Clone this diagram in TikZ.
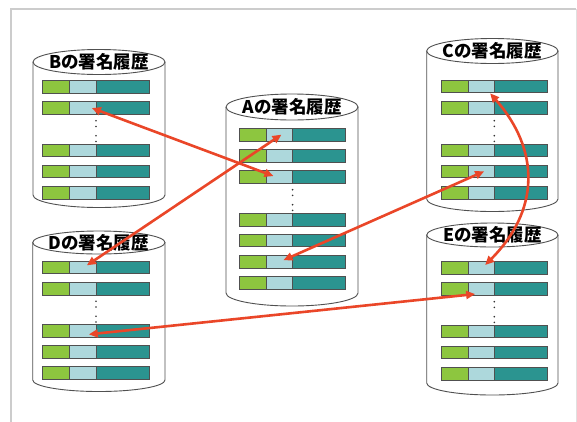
\documentclass[tikz,border=0pt]{standalone}
\usepackage{fontspec}
\newfontfamily\jpfont{Noto Sans CJK JP}
\usetikzlibrary{calc,arrows.meta}
\definecolor{sgreen}{HTML}{8DC63F}
\definecolor{sblue}{HTML}{ADD8DC}
\definecolor{steal}{HTML}{2B9490}
\definecolor{sarrow}{HTML}{EA4628}
\definecolor{sframe}{HTML}{CCCCCC}
\definecolor{sline}{HTML}{505050}
\tikzset{
  cell/.style={draw=sline, line width=0.8pt, minimum height=12.7pt, inner sep=0pt, outer sep=0pt},
  gcell/.style={cell, fill=sgreen, minimum width=27pt},
  bcell/.style={cell, fill=sblue, minimum width=26.3pt},
  tcell/.style={cell, fill=steal, minimum width=53.2pt},
  cylline/.style={draw=sline, line width=0.9pt},
  dblabel/.style={font=\jpfont\bfseries\fontsize{17.5}{17.5}\selectfont, inner sep=0pt, text=black},
  xarrow/.style={draw=sarrow, line width=2.6pt, {Triangle[length=9pt,width=8pt]}-{Triangle[length=9pt,width=8pt]}},
  sdot/.style={fill=black!80},
}
\newcommand{\sigrow}[3]{%
  \node[gcell, anchor=north west] (#1g) at (#2,#3) {};
  \node[bcell, anchor=west] (#1) at (#1g.east) {};
  \node[tcell, anchor=west] (#1t) at (#1.east) {};
}
\newcommand{\sigdb}[7]{%
  \pgfmathsetmacro\cx{(#2+#3)/2}%
  \pgfmathsetmacro\rx{(#3-#2)/2}%
  \draw[cylline] (#2,#4) -- (#2,#5) arc[start angle=180, end angle=0, x radius=\rx, y radius=#6] -- (#3,#4);
  \draw[cylline] (\cx,#4) ellipse[x radius=\rx, y radius=#6];
  \node[dblabel] (#1) at (\cx,#4) {#7};
}
\newcommand{\sigdots}[1]{%
  \foreach \d in {6.3,12,21.3,27} \fill[sdot] ($(#1.south east)+(0,\d)$) circle (0.9);
}
\begin{document}
\begin{tikzpicture}[x=1pt,y=-1pt]
\useasboundingbox (0,0) rectangle (577,421);
\fill[white] (0,0) rectangle (577,421);
\draw[sframe, line width=1.4pt] (11,440) -- (11,9) -- (576,9);
\draw[sframe!60, line width=0.8pt] (576,9) -- (576,440);

% cylinders
\sigdb{dbB}{33}{165}{62}{195}{12.5}{Bの署名履歴}
\sigdb{dbA}{226}{358}{107}{293}{13}{Aの署名履歴}
\sigdb{dbC}{426.7}{558}{51}{199}{12.5}{Cの署名履歴}
\sigdb{dbD}{32.7}{165}{242.5}{380}{11.5}{Dの署名履歴}
\sigdb{dbE}{426.7}{558}{235}{383}{12}{Eの署名履歴}

% rows B
\sigrow{B1}{42.7}{80.7}
\sigrow{B2}{42.7}{101.7}
\sigrow{B3}{42.7}{144}
\sigrow{B4}{42.7}{165}
\sigrow{B5}{42.7}{186.7}
\sigdots{B2}
% rows A
\sigrow{A1}{239.3}{128.3}
\sigrow{A2}{239.3}{149.3}
\sigrow{A3}{239.3}{170.7}
\sigrow{A4}{239.3}{213.3}
\sigrow{A5}{239.3}{234}
\sigrow{A6}{239.3}{255.3}
\sigrow{A7}{239.3}{276.7}
\sigdots{A3}
% rows C
\sigrow{C1}{441}{80}
\sigrow{C2}{441}{101.7}
\sigrow{C3}{441}{144}
\sigrow{C4}{441}{165}
\sigrow{C5}{441}{186.7}
\sigdots{C2}
% rows D
\sigrow{D1}{42.7}{261}
\sigrow{D2}{42.7}{282.3}
\sigrow{D3}{42.7}{324.3}
\sigrow{D4}{42.7}{345.7}
\sigrow{D5}{42.7}{366.7}
\sigdots{D2}
% rows E
\sigrow{E1}{441}{261.7}
\sigrow{E2}{441}{282.7}
\sigrow{E3}{441}{325}
\sigrow{E4}{441}{346}
\sigrow{E5}{441}{367.3}
\sigdots{E2}

% connectors
\draw[xarrow] ($(B2.center)+(9,0)$) -- ($(A3.center)+(-6,-1)$);
\draw[xarrow] ($(A1.center)+(2,0)$) -- ($(D1.center)+(4,-2)$);
\draw[xarrow] ($(A6.center)+(4,-1.5)$) -- ($(C4.center)+(3,0)$);
\draw[xarrow] ($(D3.center)+(6,3.7)$) -- ($(E2.center)+(-6,5)$);
\draw[xarrow] ($(C1.center)+(9,7)$) .. controls (540,150) and (540,210) .. ($(E1.center)+(4,-3)$);
\end{tikzpicture}
\end{document}
